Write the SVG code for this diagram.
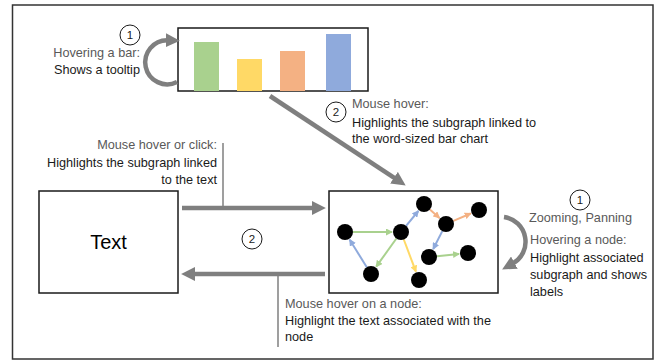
<svg xmlns="http://www.w3.org/2000/svg" width="657" height="363" viewBox="0 0 657 363">
<style>
text{font-family:"Liberation Sans",Arial,sans-serif;font-size:12.7px}
.g{fill:#595959}
.d{fill:#1a1a1a}
.box{fill:#fff;stroke:#1a1a1a;stroke-width:1.5}
.big{stroke:#7f7f7f;stroke-width:4.5;fill:none}
.thin{stroke:#7f7f7f;stroke-width:1.5;fill:none}
.num{fill:#fff;stroke:#1a1a1a;stroke-width:1}
.numt{font-size:11.5px;fill:#1a1a1a;text-anchor:middle}
.node{fill:#000}
.e{stroke-width:2;fill:none}
</style>
<defs>
<marker id="ah" markerUnits="userSpaceOnUse" markerWidth="14" markerHeight="14" viewBox="0 0 13 13" refX="2" refY="6.5" orient="auto"><path d="M0,0 L13,6.5 L0,13 z" fill="#7f7f7f"/></marker>
<marker id="mg" markerUnits="userSpaceOnUse" markerWidth="7" markerHeight="7" viewBox="0 0 7 7" refX="6" refY="3.5" orient="auto"><path d="M0,0 L7,3.5 L0,7 z" fill="#a9d18e"/></marker>
<marker id="mb" markerUnits="userSpaceOnUse" markerWidth="7" markerHeight="7" viewBox="0 0 7 7" refX="6" refY="3.5" orient="auto"><path d="M0,0 L7,3.5 L0,7 z" fill="#8faadc"/></marker>
<marker id="my" markerUnits="userSpaceOnUse" markerWidth="7" markerHeight="7" viewBox="0 0 7 7" refX="6" refY="3.5" orient="auto"><path d="M0,0 L7,3.5 L0,7 z" fill="#ffd966"/></marker>
<marker id="mo" markerUnits="userSpaceOnUse" markerWidth="7" markerHeight="7" viewBox="0 0 7 7" refX="6" refY="3.5" orient="auto"><path d="M0,0 L7,3.5 L0,7 z" fill="#f4b183"/></marker>
</defs>
<rect x="0" y="0" width="657" height="363" fill="#fff"/>
<rect id="frame" x="12.5" y="5" width="640.5" height="354" fill="none" stroke="#333" stroke-width="1.5"/>

<g id="barchart">
<rect class="box" x="178" y="28" width="190" height="63"/>
<rect x="194" y="42" width="25" height="49" fill="#a9d18e"/>
<rect x="237" y="59" width="25" height="32" fill="#ffd966"/>
<rect x="280" y="51" width="25" height="40" fill="#f4b183"/>
<rect x="326" y="34" width="25" height="57" fill="#8faadc"/>
</g>

<g id="textbox">
<rect class="box" x="39" y="191" width="139" height="102"/>
<text x="108.5" y="249" style="font-size:20px;text-anchor:middle" fill="#000">Text</text>
</g>

<g id="graphview">
<rect class="box" x="329" y="191" width="169" height="102"/>
<g id="edges">
<line class="e" stroke="#a9d18e" x1="353" y1="232" x2="392" y2="232" marker-end="url(#mg)"/>
<line class="e" stroke="#8faadc" x1="366.8" y1="267.2" x2="349.7" y2="239.7" marker-end="url(#mb)"/>
<line class="e" stroke="#a9d18e" x1="396.4" y1="238.5" x2="376.2" y2="266.7" marker-end="url(#mg)"/>
<line class="e" stroke="#8faadc" x1="406.1" y1="225.8" x2="418.3" y2="211" marker-end="url(#mb)"/>
<line class="e" stroke="#ffd966" x1="403.8" y1="239.5" x2="415.9" y2="271.6" marker-end="url(#my)"/>
<line class="e" stroke="#f4b183" x1="429.9" y1="209.4" x2="439.4" y2="217.9" marker-end="url(#mo)"/>
<line class="e" stroke="#f4b183" x1="453.4" y1="220.9" x2="470.7" y2="213.5" marker-end="url(#mo)"/>
<line class="e" stroke="#8faadc" x1="442.3" y1="231.1" x2="433.2" y2="249" marker-end="url(#mb)"/>
<line class="e" stroke="#a9d18e" x1="437" y1="256.2" x2="459" y2="253.9" marker-end="url(#mg)"/>
</g>
<g id="gnodes">
<circle class="node" cx="345" cy="232" r="8"/>
<circle class="node" cx="401" cy="232" r="8"/>
<circle class="node" cx="424" cy="204" r="8"/>
<circle class="node" cx="446" cy="224" r="8"/>
<circle class="node" cx="479" cy="210" r="8"/>
<circle class="node" cx="429" cy="257" r="8"/>
<circle class="node" cx="468" cy="253" r="8"/>
<circle class="node" cx="371" cy="274" r="8"/>
<circle class="node" cx="419" cy="280" r="8"/>
</g>
</g>

<g id="connectors">
<path class="big" d="M177,82 A22,22 0 1 1 168,40.3" marker-end="url(#ah)"/>
<line class="big" x1="270" y1="96" x2="395.8" y2="178.9" marker-end="url(#ah)"/>
<line class="big" x1="182" y1="208" x2="314" y2="208" marker-end="url(#ah)"/>
<line class="thin" x1="223" y1="143" x2="223" y2="208"/>
<line class="big" x1="325" y1="274" x2="193" y2="274" marker-end="url(#ah)"/>
<line class="thin" x1="278" y1="274" x2="278" y2="347"/>
<path class="big" d="M504,217 A25,25 0 0 1 512.5,263.7" marker-end="url(#ah)"/>
</g>

<g id="labels">
<circle class="num" cx="130" cy="35" r="10"/><text class="numt" x="130" y="39">1</text>
<text class="g" x="140" y="57" text-anchor="end">Hovering a bar:</text>
<text class="d" x="140" y="74" text-anchor="end">Shows a tooltip</text>

<circle class="num" cx="336" cy="112" r="10"/><text class="numt" x="336" y="116">2</text>
<text class="g" x="352" y="108">Mouse hover:</text>
<text class="d" x="352" y="127">Highlights the subgraph linked to</text>
<text class="d" x="352" y="143">the word-sized bar chart</text>

<text class="g" x="217" y="149" text-anchor="end">Mouse hover or click:</text>
<text class="d" x="217" y="167" text-anchor="end">Highlights the subgraph linked</text>
<text class="d" x="217" y="184" text-anchor="end">to the text</text>

<circle class="num" cx="252" cy="239" r="10"/><text class="numt" x="252" y="243">2</text>

<text class="g" x="285" y="308">Mouse hover on a node:</text>
<text class="d" x="285" y="325">Highlight the text associated with the</text>
<text class="d" x="285" y="341">node</text>

<circle class="num" cx="580" cy="200" r="10"/><text class="numt" x="580" y="204">1</text>
<text class="g" x="529" y="222">Zooming, Panning</text>
<text class="g" x="530" y="244">Hovering a node:</text>
<text class="d" x="530" y="262">Highlight associated</text>
<text class="d" x="530" y="279">subgraph and shows</text>
<text class="d" x="530" y="296">labels</text>
</g>
</svg>
